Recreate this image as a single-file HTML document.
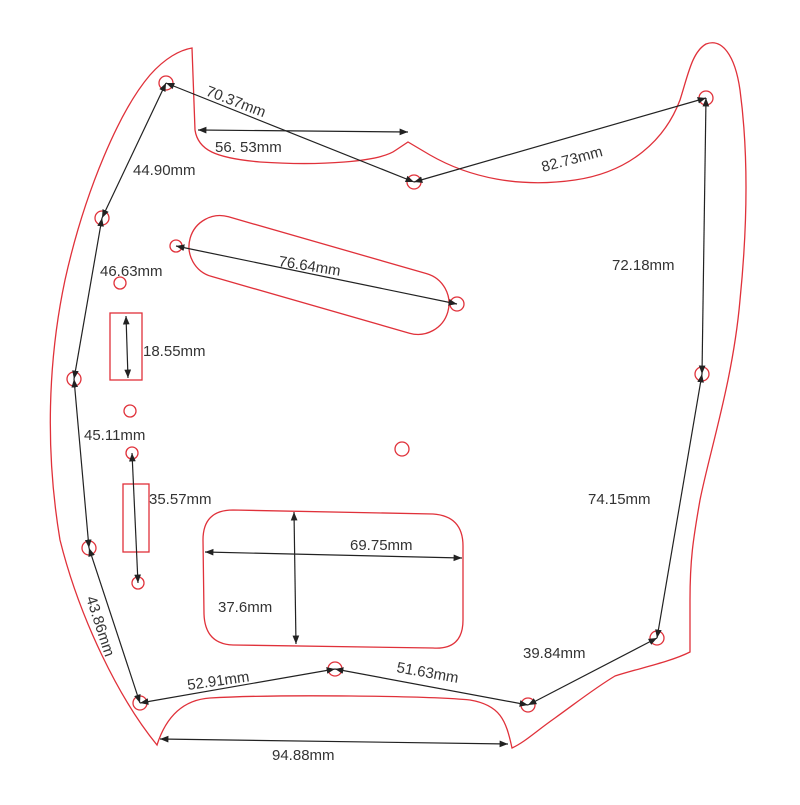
<!DOCTYPE html>
<html><head><meta charset="utf-8"><style>
html,body{margin:0;padding:0;background:#fff;}
svg text{font-family:"Liberation Sans",sans-serif;font-size:15px;fill:#333;}
</style></head><body>
<svg width="800" height="800" viewBox="0 0 800 800" xmlns="http://www.w3.org/2000/svg">
<defs>
<marker id="a" viewBox="0 0 10 10" refX="10" refY="5" markerWidth="7" markerHeight="7" orient="auto-start-reverse"><path d="M0,1 L10,5 L0,9 z" fill="#222"/></marker>
</defs>
<g fill="none" stroke="#e0313a" stroke-width="1.3">
<path d="M157,745 C120,700 80,620 60,540 C45,450 48,360 65,280 C85,190 120,110 150,75 C165,58 180,50 192,48 L195,130 C198,150 215,158 260,162 C320,166 380,162 396,150 L408,142 L430,155 C470,178 520,188 575,180 C630,172 665,140 680,100 C688,75 692,52 706,44 C722,38 735,55 740,90 C748,150 748,220 740,300 C733,380 710,450 700,500 C693,540 690,560 690,600 L690,652 C670,662 640,668 615,676 C595,688 580,700 555,718 C535,732 525,742 512,748 C506,720 500,705 470,700 C430,696 280,694 210,698 C180,700 165,720 157,745 Z"/>
<rect x="185" y="244" width="268" height="62" rx="31" transform="rotate(16 319 275)"/>
<path d="M233,510 L433,514 Q463,516 463,546 L463,620 Q463,650 433,648 L233,645 Q205,644 204,614 L203,540 Q203,510 233,510 Z"/>
<rect x="110" y="313" width="32" height="67"/>
<rect x="123" y="484" width="26" height="68"/>
<circle cx="166" cy="83" r="7"/><circle cx="414" cy="182" r="7"/><circle cx="706" cy="98" r="7"/>
<circle cx="102" cy="218" r="7"/><circle cx="176" cy="246" r="6"/><circle cx="457" cy="304" r="7"/>
<circle cx="120" cy="283" r="6"/><circle cx="74" cy="379" r="7"/><circle cx="130" cy="411" r="6"/>
<circle cx="402" cy="449" r="7"/><circle cx="702" cy="374" r="7"/><circle cx="132" cy="453" r="6"/>
<circle cx="89" cy="548" r="7"/><circle cx="138" cy="583" r="6"/><circle cx="657" cy="638" r="7"/>
<circle cx="335" cy="669" r="7"/><circle cx="140" cy="703" r="7"/><circle cx="528" cy="705" r="7"/>
</g>
<g stroke="#222" stroke-width="1.2" marker-start="url(#a)" marker-end="url(#a)">
<line x1="166" y1="83" x2="414" y2="182"/>
<line x1="198" y1="130" x2="408" y2="132"/>
<line x1="414" y1="182" x2="706" y2="98"/>
<line x1="706" y1="98" x2="702" y2="374"/>
<line x1="702" y1="374" x2="657" y2="638"/>
<line x1="657" y1="638" x2="528" y2="705"/>
<line x1="528" y1="705" x2="335" y2="669"/>
<line x1="335" y1="669" x2="140" y2="703"/>
<line x1="140" y1="703" x2="89" y2="548"/>
<line x1="89" y1="548" x2="74" y2="379"/>
<line x1="74" y1="379" x2="102" y2="218"/>
<line x1="102" y1="218" x2="166" y2="83"/>
<line x1="176" y1="246" x2="457" y2="304"/>
<line x1="126" y1="316" x2="128" y2="378"/>
<line x1="132" y1="453" x2="138" y2="583"/>
<line x1="205" y1="552" x2="462" y2="558"/>
<line x1="294" y1="512" x2="296" y2="644"/>
<line x1="160" y1="739" x2="508" y2="744"/>
</g>
<text x="205" y="95" transform="rotate(21 205 95)">70.37mm</text>
<text x="215" y="152">56. 53mm</text>
<text x="543" y="172" transform="rotate(-15 543 172)">82.73mm</text>
<text x="133" y="175">44.90mm</text>
<text x="278" y="266" transform="rotate(9 278 266)">76.64mm</text>
<text x="100" y="276">46.63mm</text>
<text x="612" y="270">72.18mm</text>
<text x="143" y="356">18.55mm</text>
<text x="84" y="440">45.11mm</text>
<text x="149" y="504">35.57mm</text>
<text x="588" y="504">74.15mm</text>
<text x="350" y="550">69.75mm</text>
<text x="218" y="612">37.6mm</text>
<text x="523" y="658">39.84mm</text>
<text x="86" y="598" transform="rotate(72 86 598)">43.86mm</text>
<text x="188" y="690" transform="rotate(-8 188 690)">52.91mm</text>
<text x="396" y="672" transform="rotate(10 396 672)">51.63mm</text>
<text x="272" y="760">94.88mm</text>
</svg>
</body></html>
